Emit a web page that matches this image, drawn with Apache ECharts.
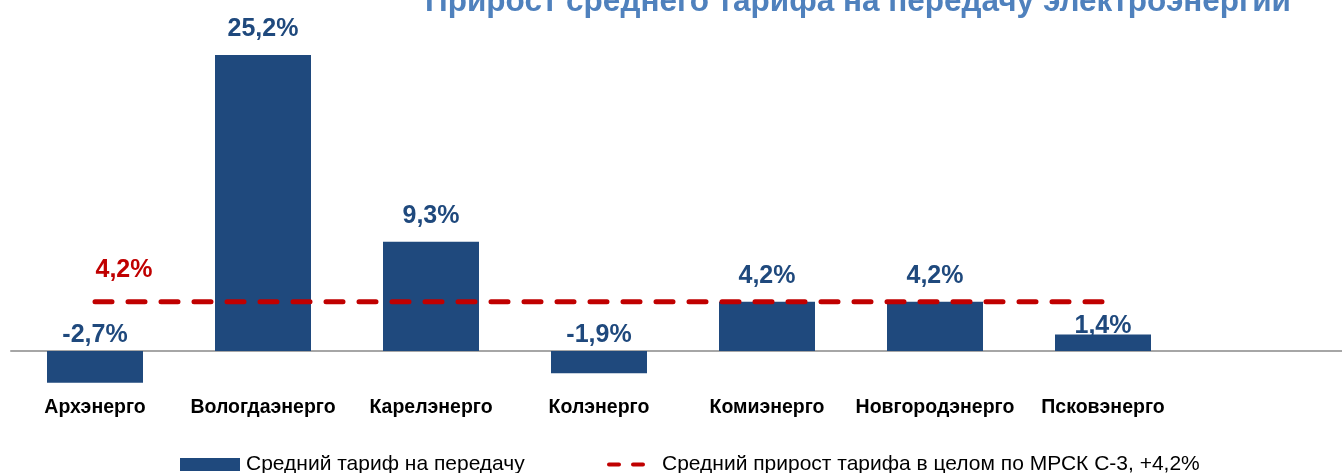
<!DOCTYPE html>
<html><head><meta charset="utf-8">
<script src="https://cdn.jsdelivr.net/npm/echarts@6/dist/echarts.min.js"></script>
<style>html,body{margin:0;padding:0;background:#fff}#c{width:1342px;height:473px}</style>
</head><body><div id="c"></div>
<script>
const categories = ['Архэнерго','Вологдаэнерго','Карелэнерго','Колэнерго','Комиэнерго','Новгородэнерго','Псковэнерго',''];
const tariffGrowth = [-2.7, 25.2, 9.3, -1.9, 4.2, 4.2, 1.4];
const avgGrowth = [4.2, 4.2, 4.2, 4.2, 4.2, 4.2, 4.2];
const seriesNames = ['Средний тариф на передачу', 'Средний прирост тарифа в целом по МРСК С-3, +4,2%'];
const titleText = 'Прирост среднего тарифа на передачу электроэнергии';

const fmt = v => v.toFixed(1).replace('.', ',') + '%';
const FONT = '"Liberation Sans", Arial, sans-serif';
const BLUE = '#1F497D', RED = '#C00000';

const chart = echarts.init(document.getElementById('c'));
chart.setOption({
  animation: false,
  grid: { left: 11, width: 1344, top: 22, bottom: 75, outerBoundsMode: 'none', containLabel: false },
  graphic: [{
    type: 'text', x: 858, y: 2,
    style: { text: titleText, fill: '#4F81BD', font: 'bold 31.5px "Liberation Sans", Arial, sans-serif', align: 'center', verticalAlign: 'middle' }
  }],
  legend: [
    { data: [{ name: seriesNames[0], icon: 'rect' }], left: 175, top: 449, itemWidth: 60, itemHeight: 13, itemGap: 10,
      textStyle: { fontFamily: FONT, fontSize: 21, color: '#000', padding: [0,0,0,1] } },
    { data: [{ name: seriesNames[1], icon: 'path://M2,0H12A2,2 0 0 1 12,4H2A2,2 0 0 1 2,0ZM26,0H36A2,2 0 0 1 36,4H26A2,2 0 0 1 26,0Z', itemStyle: { color: RED } }],
      left: 602, top: 449, itemWidth: 38, itemHeight: 5,
      textStyle: { fontFamily: FONT, fontSize: 21, color: '#000', padding: [0,0,0,12] } }
  ],
  xAxis: {
    type: 'category', data: categories,
    axisLine: { show: true, onZero: true, lineStyle: { color: '#A6A6A6', width: 2 } },
    axisTick: { show: false },
    axisLabel: { interval: 0, margin: 0, color: '#000', fontFamily: FONT, fontWeight: 'bold', fontSize: 19.5 }
  },
  yAxis: { type: 'value', min: -4, max: 28, show: false, splitLine: { show: false } },
  series: [
    { name: seriesNames[0], type: 'bar', data: tariffGrowth, barWidth: 96,
      itemStyle: { color: BLUE }, z: 2 },
    { name: 'labels', type: 'scatter', symbolSize: 0, silent: true, z: 5,
      itemStyle: { opacity: 1, color: BLUE },
      data: tariffGrowth.map(v => Math.max(v, 0)),
      label: { show: true, position: 'top', distance: 13,
        formatter: p => fmt(tariffGrowth[p.dataIndex]),
        color: BLUE, fontFamily: FONT, fontWeight: 'bold', fontSize: 25 },
      labelLayout: p => p.dataIndex === 6 ? { dy: 17 } : (tariffGrowth[p.dataIndex] < 0 ? { dy: 10 } : {}) },
    { name: seriesNames[1], type: 'line', data: avgGrowth, symbol: 'none', z: 4,
      lineStyle: { color: RED, width: 5, type: [17, 16], cap: 'round' },
      itemStyle: { color: RED } },
    { name: 'avgLabel', type: 'scatter', symbolSize: 0, silent: true, z: 5,
      itemStyle: { opacity: 1, color: RED },
      data: [avgGrowth[0]],
      label: { show: true, position: 'top', distance: 19, offset: [29, 0],
        formatter: p => fmt(p.value),
        color: RED, fontFamily: FONT, fontWeight: 'bold', fontSize: 25 } }
  ]
});
</script></body></html>
